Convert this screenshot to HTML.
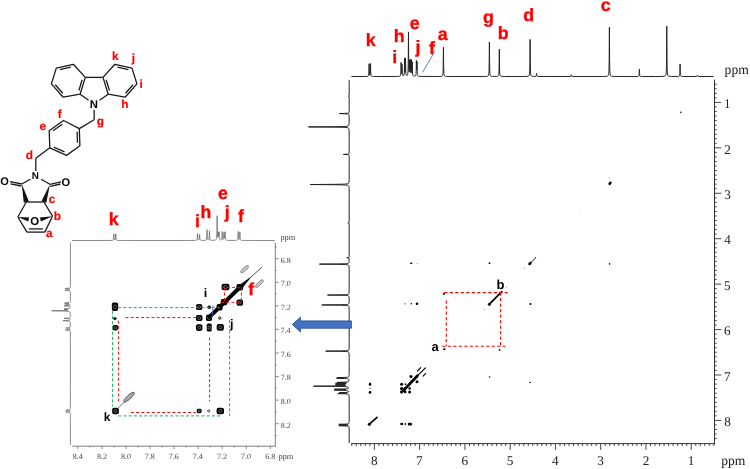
<!DOCTYPE html>
<html><head><meta charset="utf-8"><style>
html,body{margin:0;padding:0;background:#fff;}
body{width:750px;height:469px;overflow:hidden;font-family:"Liberation Sans",sans-serif;}
svg{display:block;will-change:transform;}
text{text-rendering:geometricPrecision;}
</style></head><body>
<svg width="750" height="469" viewBox="0 0 750 469">
<g id="mol">
<path d="M73.4,64.3 L56.3,68.1 L51.4,83.9 L63.2,97.2 L80.1,94.2 L85.3,77.4 Z" fill="none" stroke="#1a1a1a" stroke-width="1.3" stroke-linejoin="round"/>
<path d="M114.9,64.3 L132.0,68.1 L136.9,83.9 L125.10000000000001,97.2 L108.20000000000002,94.2 L103.00000000000001,77.4 Z" fill="none" stroke="#1a1a1a" stroke-width="1.3" stroke-linejoin="round"/>
<line x1="70.82" y1="67.23" x2="59.88" y2="69.66" stroke="#1a1a1a" stroke-width="1.3"/>
<line x1="55.24" y1="84.77" x2="62.8" y2="93.28" stroke="#1a1a1a" stroke-width="1.3"/>
<line x1="78.84" y1="90.5" x2="82.17" y2="79.74" stroke="#1a1a1a" stroke-width="1.3"/>
<line x1="117.48" y1="67.23" x2="128.42" y2="69.66" stroke="#1a1a1a" stroke-width="1.3"/>
<line x1="133.06" y1="84.77" x2="125.5" y2="93.28" stroke="#1a1a1a" stroke-width="1.3"/>
<line x1="109.46" y1="90.5" x2="106.13" y2="79.74" stroke="#1a1a1a" stroke-width="1.3"/>
<line x1="85.3" y1="77.4" x2="103.00000000000001" y2="77.4" stroke="#1a1a1a" stroke-width="1.3"/>
<line x1="80.1" y1="94.2" x2="88.6" y2="100.2" stroke="#1a1a1a" stroke-width="1.3"/>
<line x1="108.20000000000002" y1="94.2" x2="99.5" y2="100.2" stroke="#1a1a1a" stroke-width="1.3"/>
<line x1="94.15" y1="110.0" x2="94.15" y2="119.7" stroke="#1a1a1a" stroke-width="1.3"/>
<line x1="94.15" y1="119.7" x2="79.3" y2="128.6" stroke="#1a1a1a" stroke-width="1.3"/>
<path d="M63.5,120.5 L79.3,128.6 L79.9,145.8 L66.5,155.4 L49.8,147.8 L49.2,130.7 Z" fill="none" stroke="#1a1a1a" stroke-width="1.3" stroke-linejoin="round"/>
<line x1="53.11" y1="130.74" x2="62.26" y2="124.21" stroke="#1a1a1a" stroke-width="1.3"/>
<line x1="77.11" y1="131.78" x2="77.49" y2="142.78" stroke="#1a1a1a" stroke-width="1.3"/>
<line x1="64.45" y1="151.94" x2="53.76" y2="147.07" stroke="#1a1a1a" stroke-width="1.3"/>
<line x1="49.8" y1="147.8" x2="35.8" y2="158.3" stroke="#1a1a1a" stroke-width="1.3"/>
<line x1="35.8" y1="158.3" x2="35.8" y2="171.0" stroke="#1a1a1a" stroke-width="1.3"/>
<line x1="30.3" y1="179.3" x2="21.8" y2="184.0" stroke="#1a1a1a" stroke-width="1.3"/>
<line x1="41.1" y1="179.3" x2="49.9" y2="184.3" stroke="#1a1a1a" stroke-width="1.3"/>
<line x1="21.8" y1="184.0" x2="10.0" y2="181.6" stroke="#1a1a1a" stroke-width="1.3"/>
<line x1="21.400000000000002" y1="186.0" x2="10.6" y2="183.8" stroke="#1a1a1a" stroke-width="1.3"/>
<line x1="49.9" y1="184.3" x2="61.0" y2="181.8" stroke="#1a1a1a" stroke-width="1.3"/>
<line x1="50.3" y1="186.3" x2="60.5" y2="184.0" stroke="#1a1a1a" stroke-width="1.3"/>
<path d="M21.8,184.0 L23.78,202.63 L28.82,201.37 Z" fill="#111"/>
<path d="M49.9,184.3 L41.44,201.17 L46.36,202.83 Z" fill="#111"/>
<line x1="26.3" y1="202.0" x2="43.9" y2="202.0" stroke="#1a1a1a" stroke-width="1.3"/>
<line x1="26.3" y1="202.0" x2="17.9" y2="217.0" stroke="#1a1a1a" stroke-width="1.3"/>
<line x1="43.9" y1="202.0" x2="52.5" y2="216.2" stroke="#1a1a1a" stroke-width="1.3"/>
<line x1="17.9" y1="217.0" x2="26.9" y2="232.1" stroke="#1a1a1a" stroke-width="1.3"/>
<line x1="52.5" y1="216.2" x2="44.8" y2="232.1" stroke="#1a1a1a" stroke-width="1.3"/>
<line x1="26.9" y1="232.1" x2="44.8" y2="232.1" stroke="#1a1a1a" stroke-width="1.3"/>
<line x1="28.9" y1="228.9" x2="42.8" y2="228.9" stroke="#1a1a1a" stroke-width="1.3"/>
<path d="M17.9,217.0 L28.26,221.40 L29.14,217.40 Z" fill="#111"/>
<path d="M52.5,216.2 L39.88,217.42 L40.92,221.38 Z" fill="#111"/>
</g>
<text x="89.76" y="108.20" font-family='"Liberation Sans", sans-serif' font-size="11.34" font-weight="bold" fill="#000">N</text>
<text x="31.63" y="179.00" font-family='"Liberation Sans", sans-serif' font-size="9.88" font-weight="bold" fill="#000">N</text>
<text x="0.32" y="185.29" font-family='"Liberation Sans", sans-serif' font-size="11.02" font-weight="bold" fill="#000">O</text>
<text x="61.42" y="185.69" font-family='"Liberation Sans", sans-serif' font-size="11.02" font-weight="bold" fill="#000">O</text>
<text x="30.16" y="225.39" font-family='"Liberation Sans", sans-serif' font-size="11.44" font-weight="bold" fill="#000">O</text>
<text x="112.00" y="60.28" font-family='"Liberation Sans", sans-serif' font-size="11.80" font-weight="bold" fill="#ff0000" stroke="#f00" stroke-width="0.2">k</text>
<text x="131.67" y="61.90" font-family='"Liberation Sans", sans-serif' font-size="11.80" font-weight="bold" fill="#ff0000" stroke="#f00" stroke-width="0.2">j</text>
<text x="139.62" y="87.78" font-family='"Liberation Sans", sans-serif' font-size="11.80" font-weight="bold" fill="#ff0000" stroke="#f00" stroke-width="0.2">i</text>
<text x="121.15" y="107.98" font-family='"Liberation Sans", sans-serif' font-size="11.80" font-weight="bold" fill="#ff0000" stroke="#f00" stroke-width="0.2">h</text>
<text x="96.75" y="125.13" font-family='"Liberation Sans", sans-serif' font-size="11.80" font-weight="bold" fill="#ff0000" stroke="#f00" stroke-width="0.2">g</text>
<text x="57.72" y="118.43" font-family='"Liberation Sans", sans-serif' font-size="11.80" font-weight="bold" fill="#ff0000" stroke="#f00" stroke-width="0.2">f</text>
<text x="39.49" y="129.72" font-family='"Liberation Sans", sans-serif' font-size="11.80" font-weight="bold" fill="#ff0000" stroke="#f00" stroke-width="0.2">e</text>
<text x="25.64" y="158.72" font-family='"Liberation Sans", sans-serif' font-size="11.80" font-weight="bold" fill="#ff0000" stroke="#f00" stroke-width="0.2">d</text>
<text x="48.81" y="203.37" font-family='"Liberation Sans", sans-serif' font-size="11.80" font-weight="bold" fill="#ff0000" stroke="#f00" stroke-width="0.2">c</text>
<text x="53.85" y="220.02" font-family='"Liberation Sans", sans-serif' font-size="11.80" font-weight="bold" fill="#ff0000" stroke="#f00" stroke-width="0.2">b</text>
<text x="46.11" y="236.52" font-family='"Liberation Sans", sans-serif' font-size="11.80" font-weight="bold" fill="#ff0000" stroke="#f00" stroke-width="0.2">a</text>
<path d="M351.40,76.50 L365.72,76.45 L367.36,76.36 L367.80,76.26 L368.12,76.11 L368.36,75.86 L368.52,75.52 L368.76,74.12 L368.88,72.06 L369.12,63.65 L369.40,73.33 L369.56,74.74 L369.68,75.12 L369.84,75.22 L369.96,75.06 L370.08,74.59 L370.24,72.88 L370.52,63.61 L370.68,70.44 L370.84,73.98 L370.96,74.98 L371.12,75.60 L371.36,76.00 L371.68,76.21 L372.36,76.37 L373.64,76.45 L381.52,76.49 L396.28,76.45 L398.52,76.37 L399.64,76.22 L400.12,75.99 L400.40,75.62 L400.60,75.00 L400.72,74.18 L400.88,71.49 L401.12,62.37 L401.32,70.90 L401.48,73.26 L401.56,73.51 L401.64,73.34 L401.76,72.07 L402.00,63.95 L402.24,72.17 L402.40,74.37 L402.52,75.04 L402.72,75.54 L403.00,75.78 L403.40,75.78 L403.72,75.52 L403.96,75.00 L404.12,74.18 L404.24,72.89 L404.40,68.43 L404.60,57.94 L404.80,68.88 L404.96,72.02 L405.04,72.32 L405.12,72.03 L405.24,70.17 L405.48,57.94 L405.72,69.93 L405.92,73.75 L406.08,74.74 L406.32,75.34 L406.52,75.53 L406.72,75.60 L406.96,75.57 L407.16,75.46 L407.40,75.18 L407.56,74.84 L407.80,73.81 L408.00,71.70 L408.12,68.83 L408.28,58.92 L408.48,31.91 L408.72,62.10 L408.84,68.24 L409.04,71.66 L409.12,72.02 L409.16,72.05 L409.20,71.97 L409.36,70.19 L409.60,59.81 L409.84,69.36 L409.96,71.02 L410.00,71.10 L410.04,70.96 L410.08,70.60 L410.40,59.23 L410.64,70.56 L410.80,72.62 L410.88,72.84 L410.96,72.66 L411.08,71.47 L411.16,69.58 L411.36,59.54 L411.60,69.78 L411.76,72.46 L411.84,72.75 L411.92,72.54 L412.04,71.01 L412.28,61.71 L412.48,70.34 L412.68,74.06 L412.84,75.01 L413.04,75.53 L413.36,75.89 L413.84,76.08 L414.68,76.12 L415.04,76.05 L415.32,75.92 L415.68,75.48 L415.92,74.60 L416.04,73.56 L416.16,71.32 L416.40,60.45 L416.60,68.50 L416.68,69.75 L416.72,69.76 L416.76,69.36 L416.80,68.52 L417.00,61.49 L417.20,70.72 L417.32,73.33 L417.44,74.52 L417.60,75.28 L417.84,75.78 L418.16,76.07 L418.56,76.23 L419.12,76.33 L421.20,76.43 L437.24,76.47 L441.04,76.36 L441.80,76.21 L442.28,75.93 L442.60,75.42 L442.80,74.66 L442.96,73.33 L443.08,71.18 L443.20,66.38 L443.44,47.38 L443.64,66.20 L443.80,72.02 L443.92,73.74 L444.08,74.85 L444.32,75.59 L444.48,75.84 L444.72,76.05 L445.36,76.30 L446.48,76.41 L452.80,76.49 L483.72,76.47 L486.60,76.38 L487.32,76.29 L487.84,76.14 L488.32,75.76 L488.64,75.05 L488.84,73.94 L489.00,71.85 L489.20,63.48 L489.40,42.03 L489.60,62.55 L489.76,70.65 L489.88,72.97 L490.04,74.43 L490.28,75.37 L490.64,75.92 L491.20,76.22 L492.20,76.37 L494.44,76.43 L496.72,76.38 L497.48,76.28 L498.00,76.09 L498.32,75.80 L498.56,75.32 L498.76,74.40 L498.88,73.26 L499.04,69.66 L499.32,49.10 L499.52,65.95 L499.64,71.07 L499.76,73.32 L499.92,74.68 L500.12,75.44 L500.44,75.94 L500.88,76.21 L501.56,76.35 L504.68,76.47 L524.52,76.47 L527.08,76.39 L528.28,76.21 L528.64,76.05 L528.92,75.81 L529.12,75.51 L529.28,75.11 L529.52,73.80 L529.68,71.64 L529.88,63.12 L530.08,39.40 L530.32,63.98 L530.48,71.00 L530.64,73.53 L530.84,74.85 L531.16,75.67 L531.40,75.94 L531.68,76.12 L532.36,76.31 L533.52,76.41 L535.20,76.42 L535.88,76.29 L536.08,76.12 L536.24,75.74 L536.52,73.48 L536.72,75.30 L536.92,76.06 L537.08,76.25 L537.28,76.35 L538.12,76.45 L570.08,76.47 L570.64,76.39 L570.92,76.20 L571.08,75.80 L571.28,74.70 L571.48,75.79 L571.64,76.20 L571.92,76.39 L572.56,76.47 L601.80,76.48 L605.40,76.42 L607.04,76.27 L607.56,76.12 L607.92,75.92 L608.20,75.62 L608.40,75.24 L608.56,74.73 L608.72,73.83 L608.92,71.37 L609.04,67.96 L609.16,60.38 L609.40,27.29 L609.60,58.36 L609.76,68.72 L609.88,71.74 L610.08,73.98 L610.36,75.19 L610.56,75.59 L610.80,75.87 L611.24,76.13 L611.92,76.30 L614.60,76.45 L634.84,76.49 L637.24,76.46 L638.24,76.36 L638.56,76.24 L638.76,76.06 L638.92,75.76 L639.04,75.28 L639.20,73.60 L639.40,69.20 L639.60,73.69 L639.72,75.06 L639.96,75.95 L640.16,76.19 L640.48,76.34 L641.20,76.44 L642.76,76.48 L655.76,76.49 L661.92,76.44 L664.24,76.30 L664.84,76.15 L665.24,75.95 L665.56,75.63 L665.80,75.17 L665.96,74.62 L666.12,73.65 L666.32,70.96 L666.44,67.20 L666.56,58.74 L666.76,26.05 L667.00,58.83 L667.16,68.80 L667.28,71.75 L667.48,73.96 L667.72,75.06 L667.88,75.44 L668.12,75.78 L668.52,76.07 L669.12,76.26 L670.00,76.37 L671.40,76.43 L677.76,76.43 L678.72,76.32 L679.00,76.23 L679.24,76.06 L679.44,75.77 L679.60,75.27 L679.80,73.51 L680.08,64.01 L680.28,71.43 L680.44,74.37 L680.56,75.21 L680.72,75.74 L680.96,76.09 L681.28,76.27 L682.12,76.42 L683.84,76.47 L696.52,76.46 L696.96,76.39 L697.20,76.20 L697.52,75.10 L697.72,75.98 L697.84,76.23 L698.04,76.38 L698.44,76.46 L713.60,76.50" fill="none" stroke="#222" stroke-width="1.0"/>
<path d="M349.20,80.20 L349.17,95.16 L349.10,95.56 L348.98,95.76 L348.77,95.88 L348.08,96.08 L348.97,96.40 L349.11,96.64 L349.17,97.08 L349.18,109.84 L349.13,111.60 L349.01,112.40 L348.86,112.72 L348.56,112.96 L348.10,113.12 L347.34,113.24 L344.66,113.40 L339.29,113.56 L347.03,113.88 L348.28,114.08 L348.64,114.24 L348.86,114.44 L349.06,114.96 L349.15,115.96 L349.14,122.44 L349.01,124.60 L348.85,125.20 L348.62,125.60 L348.34,125.84 L348.03,126.00 L347.12,126.24 L345.28,126.44 L342.81,126.56 L334.35,126.72 L308.47,126.92 L335.67,127.16 L342.04,127.28 L344.91,127.40 L346.97,127.60 L347.72,127.76 L348.15,127.92 L348.51,128.16 L348.77,128.48 L348.92,128.88 L349.04,129.48 L349.15,131.80 L349.19,137.76 L349.18,151.00 L349.15,152.56 L349.08,153.32 L348.96,153.64 L348.78,153.84 L348.12,154.08 L346.58,154.24 L343.42,154.40 L347.21,154.64 L348.15,154.76 L348.57,154.88 L348.84,155.04 L348.98,155.24 L349.08,155.56 L349.16,156.52 L349.19,158.88 L349.16,179.28 L349.05,181.96 L348.92,182.64 L348.70,183.12 L348.48,183.36 L348.17,183.56 L347.22,183.84 L345.49,184.04 L343.18,184.16 L335.32,184.32 L310.14,184.52 L335.73,184.76 L342.12,184.88 L344.98,185.00 L347.02,185.20 L347.76,185.36 L348.18,185.52 L348.53,185.76 L348.76,186.04 L348.91,186.40 L349.02,186.92 L349.14,188.60 L349.18,192.24 L349.18,221.52 L349.11,222.16 L348.95,222.44 L348.60,222.60 L347.76,222.80 L348.67,223.00 L348.97,223.16 L349.12,223.44 L349.17,224.00 L349.16,256.08 L349.08,256.92 L349.00,257.12 L348.85,257.28 L348.24,257.48 L346.78,257.68 L348.59,257.96 L348.90,258.12 L349.03,258.32 L349.14,259.04 L349.13,260.72 L349.04,261.88 L348.89,262.56 L348.74,262.84 L348.52,263.08 L347.83,263.40 L346.70,263.60 L344.50,263.76 L338.26,263.92 L319.41,264.12 L339.39,264.36 L345.55,264.56 L347.14,264.72 L348.12,264.96 L348.67,265.32 L348.85,265.60 L348.97,265.96 L349.11,267.16 L349.17,269.72 L349.18,289.56 L349.09,292.72 L348.97,293.44 L348.77,293.88 L348.39,294.20 L347.84,294.40 L346.86,294.56 L345.28,294.68 L341.75,294.80 L327.51,295.04 L344.25,295.32 L346.80,295.48 L347.62,295.60 L348.20,295.76 L348.62,296.00 L348.86,296.32 L349.01,296.80 L349.10,297.52 L349.15,299.72 L349.10,302.12 L348.99,303.12 L348.75,303.72 L348.33,304.08 L347.63,304.32 L346.56,304.48 L344.89,304.60 L339.20,304.76 L321.76,304.96 L340.07,305.20 L345.18,305.36 L347.02,305.52 L347.98,305.72 L348.59,306.04 L348.79,306.28 L348.92,306.56 L349.11,307.80 L349.17,310.68 L349.19,341.32 L349.13,348.00 L349.04,349.16 L348.86,349.80 L348.52,350.20 L347.99,350.44 L346.92,350.64 L345.47,350.76 L340.49,350.92 L325.67,351.12 L339.45,351.32 L345.13,351.48 L346.75,351.60 L347.77,351.76 L348.35,351.96 L348.75,352.28 L348.97,352.76 L349.09,353.56 L349.18,357.36 L349.15,373.44 L349.06,375.52 L348.86,376.48 L348.64,376.80 L348.25,377.04 L347.67,377.20 L346.78,377.32 L343.72,377.48 L337.35,377.64 L337.23,377.68 L343.37,377.88 L343.78,377.92 L343.87,377.96 L343.63,378.00 L336.39,378.24 L344.78,378.48 L346.72,378.60 L347.62,378.72 L348.36,378.96 L348.73,379.32 L348.90,379.96 L348.86,380.84 L348.70,381.32 L348.41,381.64 L347.97,381.84 L347.16,382.00 L344.97,382.16 L337.45,382.40 L345.02,382.64 L346.10,382.76 L346.21,382.84 L345.93,382.92 L343.60,383.08 L335.59,383.28 L343.89,383.52 L345.30,383.60 L346.18,383.72 L346.29,383.80 L346.09,383.88 L344.36,384.04 L335.31,384.28 L342.31,384.48 L344.55,384.60 L344.82,384.64 L344.91,384.68 L344.83,384.72 L343.45,384.84 L335.89,385.08 L344.20,385.32 L345.60,385.48 L345.64,385.56 L345.36,385.64 L342.65,385.84 L337.81,385.96 L313.53,386.20 L334.97,386.40 L343.01,386.56 L345.34,386.68 L347.04,386.88 L347.87,387.12 L348.14,387.28 L348.37,387.52 L348.47,387.76 L348.48,388.00 L348.41,388.20 L348.24,388.40 L347.71,388.64 L346.79,388.80 L343.10,389.00 L334.26,389.20 L342.75,389.40 L345.55,389.56 L345.87,389.64 L345.72,389.72 L344.44,389.84 L334.38,390.12 L343.55,390.32 L346.58,390.48 L347.48,390.60 L348.06,390.76 L348.45,391.00 L348.63,391.32 L348.62,391.72 L348.41,392.00 L347.99,392.20 L347.41,392.32 L345.47,392.48 L339.27,392.68 L345.85,392.96 L346.73,393.08 L346.82,393.16 L346.57,393.24 L344.49,393.40 L337.80,393.60 L345.42,393.84 L347.42,394.00 L348.04,394.12 L348.52,394.32 L348.80,394.60 L348.98,395.08 L349.10,396.20 L349.16,398.56 L349.19,414.36 L349.15,421.32 L349.09,422.52 L348.96,423.16 L348.78,423.48 L348.53,423.68 L348.09,423.84 L347.40,423.96 L345.03,424.12 L338.83,424.32 L346.51,424.60 L347.74,424.76 L348.17,424.96 L348.14,425.12 L347.89,425.24 L346.54,425.44 L338.84,425.72 L344.97,425.92 L347.01,426.04 L348.34,426.28 L348.65,426.44 L348.87,426.68 L349.08,427.40 L349.16,429.00 L349.20,443.00" fill="none" stroke="#222" stroke-width="1.0"/>
<line x1="714.5" y1="79.6" x2="714.5" y2="443.9" stroke="#333" stroke-width="1"/>
<path d="M714.5,84.23 h2.2 M714.5,88.77 h2.2 M714.5,93.31 h2.2 M714.5,97.86 h2.2 M714.5,102.40 h6.8 M714.5,106.94 h2.2 M714.5,111.49 h2.2 M714.5,116.03 h2.2 M714.5,120.57 h2.2 M714.5,125.12 h2.2 M714.5,129.66 h2.2 M714.5,134.20 h2.2 M714.5,138.74 h2.2 M714.5,143.29 h2.2 M714.5,147.83 h6.8 M714.5,152.37 h2.2 M714.5,156.92 h2.2 M714.5,161.46 h2.2 M714.5,166.00 h2.2 M714.5,170.55 h2.2 M714.5,175.09 h2.2 M714.5,179.63 h2.2 M714.5,184.17 h2.2 M714.5,188.72 h2.2 M714.5,193.26 h6.8 M714.5,197.80 h2.2 M714.5,202.35 h2.2 M714.5,206.89 h2.2 M714.5,211.43 h2.2 M714.5,215.98 h2.2 M714.5,220.52 h2.2 M714.5,225.06 h2.2 M714.5,229.60 h2.2 M714.5,234.15 h2.2 M714.5,238.69 h6.8 M714.5,243.23 h2.2 M714.5,247.78 h2.2 M714.5,252.32 h2.2 M714.5,256.86 h2.2 M714.5,261.40 h2.2 M714.5,265.95 h2.2 M714.5,270.49 h2.2 M714.5,275.03 h2.2 M714.5,279.58 h2.2 M714.5,284.12 h6.8 M714.5,288.66 h2.2 M714.5,293.21 h2.2 M714.5,297.75 h2.2 M714.5,302.29 h2.2 M714.5,306.84 h2.2 M714.5,311.38 h2.2 M714.5,315.92 h2.2 M714.5,320.46 h2.2 M714.5,325.01 h2.2 M714.5,329.55 h6.8 M714.5,334.09 h2.2 M714.5,338.64 h2.2 M714.5,343.18 h2.2 M714.5,347.72 h2.2 M714.5,352.26 h2.2 M714.5,356.81 h2.2 M714.5,361.35 h2.2 M714.5,365.89 h2.2 M714.5,370.44 h2.2 M714.5,374.98 h6.8 M714.5,379.52 h2.2 M714.5,384.07 h2.2 M714.5,388.61 h2.2 M714.5,393.15 h2.2 M714.5,397.70 h2.2 M714.5,402.24 h2.2 M714.5,406.78 h2.2 M714.5,411.32 h2.2 M714.5,415.87 h2.2 M714.5,420.41 h6.8 M714.5,424.95 h2.2 M714.5,429.50 h2.2 M714.5,434.04 h2.2 M714.5,438.58 h2.2" stroke="#333" stroke-width="0.9"/>
<line x1="351.2" y1="443.6" x2="714.8" y2="443.6" stroke="#333" stroke-width="1"/>
<path d="M351.77,443.6 v2.4 M356.30,443.6 v2.4 M360.82,443.6 v2.4 M365.35,443.6 v2.4 M369.87,443.6 v2.4 M374.40,443.6 v6.3 M378.93,443.6 v2.4 M383.45,443.6 v2.4 M387.98,443.6 v2.4 M392.50,443.6 v2.4 M397.03,443.6 v2.4 M401.56,443.6 v2.4 M406.08,443.6 v2.4 M410.61,443.6 v2.4 M415.13,443.6 v2.4 M419.66,443.6 v6.3 M424.19,443.6 v2.4 M428.71,443.6 v2.4 M433.24,443.6 v2.4 M437.76,443.6 v2.4 M442.29,443.6 v2.4 M446.82,443.6 v2.4 M451.34,443.6 v2.4 M455.87,443.6 v2.4 M460.39,443.6 v2.4 M464.92,443.6 v6.3 M469.45,443.6 v2.4 M473.97,443.6 v2.4 M478.50,443.6 v2.4 M483.02,443.6 v2.4 M487.55,443.6 v2.4 M492.08,443.6 v2.4 M496.60,443.6 v2.4 M501.13,443.6 v2.4 M505.65,443.6 v2.4 M510.18,443.6 v6.3 M514.71,443.6 v2.4 M519.23,443.6 v2.4 M523.76,443.6 v2.4 M528.28,443.6 v2.4 M532.81,443.6 v2.4 M537.34,443.6 v2.4 M541.86,443.6 v2.4 M546.39,443.6 v2.4 M550.91,443.6 v2.4 M555.44,443.6 v6.3 M559.97,443.6 v2.4 M564.49,443.6 v2.4 M569.02,443.6 v2.4 M573.54,443.6 v2.4 M578.07,443.6 v2.4 M582.60,443.6 v2.4 M587.12,443.6 v2.4 M591.65,443.6 v2.4 M596.17,443.6 v2.4 M600.70,443.6 v6.3 M605.23,443.6 v2.4 M609.75,443.6 v2.4 M614.28,443.6 v2.4 M618.80,443.6 v2.4 M623.33,443.6 v2.4 M627.86,443.6 v2.4 M632.38,443.6 v2.4 M636.91,443.6 v2.4 M641.43,443.6 v2.4 M645.96,443.6 v6.3 M650.49,443.6 v2.4 M655.01,443.6 v2.4 M659.54,443.6 v2.4 M664.06,443.6 v2.4 M668.59,443.6 v2.4 M673.12,443.6 v2.4 M677.64,443.6 v2.4 M682.17,443.6 v2.4 M686.69,443.6 v2.4 M691.22,443.6 v6.3 M695.75,443.6 v2.4 M700.27,443.6 v2.4 M704.80,443.6 v2.4 M709.32,443.6 v2.4 M713.85,443.6 v2.4" stroke="#333" stroke-width="0.9"/>
<text x="724.02" y="108.06" font-family='"Liberation Serif", sans-serif' font-size="13.20" fill="#222">1</text>
<text x="687.74" y="465.46" font-family='"Liberation Serif", sans-serif' font-size="13.20" fill="#222">1</text>
<text x="724.27" y="153.50" font-family='"Liberation Serif", sans-serif' font-size="13.20" fill="#222">2</text>
<text x="642.73" y="465.47" font-family='"Liberation Serif", sans-serif' font-size="13.20" fill="#222">2</text>
<text x="724.14" y="198.87" font-family='"Liberation Serif", sans-serif' font-size="13.20" fill="#222">3</text>
<text x="597.34" y="465.41" font-family='"Liberation Serif", sans-serif' font-size="13.20" fill="#222">3</text>
<text x="724.17" y="244.33" font-family='"Liberation Serif", sans-serif' font-size="13.20" fill="#222">4</text>
<text x="552.11" y="465.44" font-family='"Liberation Serif", sans-serif' font-size="13.20" fill="#222">4</text>
<text x="724.07" y="289.68" font-family='"Liberation Serif", sans-serif' font-size="13.20" fill="#222">5</text>
<text x="506.75" y="465.36" font-family='"Liberation Serif", sans-serif' font-size="13.20" fill="#222">5</text>
<text x="724.11" y="335.16" font-family='"Liberation Serif", sans-serif' font-size="13.20" fill="#222">6</text>
<text x="461.53" y="465.41" font-family='"Liberation Serif", sans-serif' font-size="13.20" fill="#222">6</text>
<text x="723.96" y="380.60" font-family='"Liberation Serif", sans-serif' font-size="13.20" fill="#222">7</text>
<text x="416.12" y="465.42" font-family='"Liberation Serif", sans-serif' font-size="13.20" fill="#222">7</text>
<text x="724.20" y="426.03" font-family='"Liberation Serif", sans-serif' font-size="13.20" fill="#222">8</text>
<text x="371.10" y="465.42" font-family='"Liberation Serif", sans-serif' font-size="13.20" fill="#222">8</text>
<text x="724.61" y="74.16" font-family='"Liberation Serif", sans-serif' font-size="13.60" fill="#222">ppm</text>
<text x="721.21" y="464.66" font-family='"Liberation Serif", sans-serif' font-size="13.60" fill="#222">ppm</text>
<text x="365.72" y="45.75" font-family='"Liberation Sans", sans-serif' font-size="17.80" font-weight="bold" fill="#ff0000" stroke="#f00" stroke-width="0.35">k</text>
<text x="393.74" y="42.10" font-family='"Liberation Sans", sans-serif' font-size="17.80" font-weight="bold" fill="#ff0000" stroke="#f00" stroke-width="0.35">h</text>
<text x="392.34" y="63.15" font-family='"Liberation Sans", sans-serif' font-size="17.80" font-weight="bold" fill="#ff0000" stroke="#f00" stroke-width="0.35">i</text>
<text x="409.66" y="28.85" font-family='"Liberation Sans", sans-serif' font-size="17.80" font-weight="bold" fill="#ff0000" stroke="#f00" stroke-width="0.35">e</text>
<text x="415.49" y="52.80" font-family='"Liberation Sans", sans-serif' font-size="17.80" font-weight="bold" fill="#ff0000" stroke="#f00" stroke-width="0.35">j</text>
<text x="428.92" y="53.55" font-family='"Liberation Sans", sans-serif' font-size="17.80" font-weight="bold" fill="#ff0000" stroke="#f00" stroke-width="0.35">f</text>
<text x="437.73" y="40.30" font-family='"Liberation Sans", sans-serif' font-size="17.80" font-weight="bold" fill="#ff0000" stroke="#f00" stroke-width="0.35">a</text>
<text x="483.09" y="23.11" font-family='"Liberation Sans", sans-serif' font-size="17.80" font-weight="bold" fill="#ff0000" stroke="#f00" stroke-width="0.35">g</text>
<text x="497.84" y="39.31" font-family='"Liberation Sans", sans-serif' font-size="17.80" font-weight="bold" fill="#ff0000" stroke="#f00" stroke-width="0.35">b</text>
<text x="523.29" y="21.36" font-family='"Liberation Sans", sans-serif' font-size="17.80" font-weight="bold" fill="#ff0000" stroke="#f00" stroke-width="0.35">d</text>
<text x="600.76" y="10.50" font-family='"Liberation Sans", sans-serif' font-size="17.80" font-weight="bold" fill="#ff0000" stroke="#f00" stroke-width="0.35">c</text>
<line x1="422.6" y1="72.4" x2="434.8" y2="51.3" stroke="#4472c4" stroke-width="0.9"/>
<ellipse cx="680.8" cy="112.3" rx="0.8" ry="0.8" transform="rotate(0 680.8 112.3)" fill="#000"/>
<ellipse cx="610.0" cy="183.3" rx="1.3" ry="2.0" transform="rotate(40 610.0 183.3)" fill="#000"/>
<ellipse cx="609.8" cy="178.0" rx="0.4" ry="0.4" transform="rotate(0 609.8 178.0)" fill="#000"/>
<ellipse cx="609.6" cy="263.9" rx="0.8" ry="0.8" transform="rotate(0 609.6 263.9)" fill="#000"/>
<ellipse cx="411.2" cy="263.3" rx="1.3" ry="0.8" transform="rotate(0 411.2 263.3)" fill="#000"/>
<ellipse cx="417.0" cy="263.3" rx="0.4" ry="0.4" transform="rotate(0 417.0 263.3)" fill="#000"/>
<ellipse cx="489.5" cy="263.2" rx="0.9" ry="0.9" transform="rotate(0 489.5 263.2)" fill="#000"/>
<line x1="529.8" y1="263.6" x2="535.4" y2="258.3" stroke="#000" stroke-width="0.9" stroke-linecap="round"/>
<ellipse cx="530.0" cy="263.5" rx="1.4" ry="2.0" transform="rotate(45 530.0 263.5)" fill="#000"/>
<ellipse cx="524.8" cy="268.4" rx="0.4" ry="0.4" transform="rotate(0 524.8 268.4)" fill="#000"/>
<ellipse cx="535.6" cy="257.6" rx="0.5" ry="0.5" transform="rotate(0 535.6 257.6)" fill="#000"/>
<ellipse cx="405.1" cy="303.8" rx="0.6" ry="0.6" transform="rotate(0 405.1 303.8)" fill="#000"/>
<ellipse cx="411.2" cy="303.8" rx="0.8" ry="0.8" transform="rotate(0 411.2 303.8)" fill="#000"/>
<ellipse cx="417.0" cy="303.8" rx="1.3" ry="1.3" transform="rotate(0 417.0 303.8)" fill="#000"/>
<ellipse cx="530.5" cy="303.9" rx="1.0" ry="1.0" transform="rotate(0 530.5 303.9)" fill="#000"/>
<ellipse cx="443.9" cy="293.8" rx="1.1" ry="1.0" transform="rotate(0 443.9 293.8)" fill="#000"/>
<line x1="489.4" y1="304.2" x2="501.8" y2="291.6" stroke="#000" stroke-width="1.7" stroke-linecap="round"/>
<ellipse cx="489.4" cy="304.2" rx="1.5" ry="1.5" transform="rotate(0 489.4 304.2)" fill="#000"/>
<ellipse cx="506.4" cy="287.4" rx="0.3" ry="0.3" transform="rotate(0 506.4 287.4)" fill="#000"/>
<ellipse cx="484.7" cy="309.3" rx="0.4" ry="0.4" transform="rotate(0 484.7 309.3)" fill="#000"/>
<ellipse cx="444.3" cy="349.3" rx="1.2" ry="1.0" transform="rotate(0 444.3 349.3)" fill="#000"/>
<ellipse cx="499.6" cy="349.9" rx="0.9" ry="0.9" transform="rotate(0 499.6 349.9)" fill="#000"/>
<ellipse cx="489.6" cy="377.0" rx="0.8" ry="0.8" transform="rotate(0 489.6 377.0)" fill="#000"/>
<ellipse cx="530.1" cy="382.5" rx="0.8" ry="0.8" transform="rotate(0 530.1 382.5)" fill="#000"/>
<ellipse cx="529.8" cy="377.4" rx="0.4" ry="0.4" transform="rotate(0 529.8 377.4)" fill="#888"/>
<ellipse cx="580.0" cy="214.0" rx="0.4" ry="0.4" transform="rotate(0 580.0 214.0)" fill="#aaa"/>
<ellipse cx="370.0" cy="384.2" rx="1.2" ry="1.7" transform="rotate(0 370.0 384.2)" fill="#000"/>
<ellipse cx="370.0" cy="388.5" rx="0.7" ry="0.6" transform="rotate(0 370.0 388.5)" fill="#000"/>
<ellipse cx="370.0" cy="392.4" rx="1.3" ry="1.3" transform="rotate(0 370.0 392.4)" fill="#000"/>
<line x1="369.4" y1="424.2" x2="377.0" y2="417.3" stroke="#000" stroke-width="1.7" stroke-linecap="round"/>
<ellipse cx="369.3" cy="424.3" rx="1.5" ry="1.5" transform="rotate(0 369.3 424.3)" fill="#000"/>
<ellipse cx="401.7" cy="423.9" rx="1.5" ry="1.2" transform="rotate(0 401.7 423.9)" fill="#000"/>
<ellipse cx="405.3" cy="424.0" rx="0.8" ry="1.0" transform="rotate(0 405.3 424.0)" fill="#000"/>
<rect x="407.90" y="422.65" width="4.0" height="2.9" rx="0.91" transform="rotate(0 409.9 424.1)" fill="#000"/>
<ellipse cx="401.6" cy="384.2" rx="1.5" ry="1.5" transform="rotate(0 401.6 384.2)" fill="#000"/>
<ellipse cx="405.4" cy="384.2" rx="0.9" ry="0.9" transform="rotate(0 405.4 384.2)" fill="#000"/>
<ellipse cx="401.6" cy="388.5" rx="1.6" ry="1.6" transform="rotate(0 401.6 388.5)" fill="#000"/>
<ellipse cx="401.6" cy="391.9" rx="1.6" ry="1.6" transform="rotate(0 401.6 391.9)" fill="#000"/>
<ellipse cx="405.1" cy="388.5" rx="1.4" ry="1.4" transform="rotate(0 405.1 388.5)" fill="#000"/>
<ellipse cx="405.1" cy="391.9" rx="1.4" ry="1.4" transform="rotate(0 405.1 391.9)" fill="#000"/>
<ellipse cx="409.6" cy="388.5" rx="1.2" ry="1.2" transform="rotate(0 409.6 388.5)" fill="#000"/>
<ellipse cx="409.6" cy="391.9" rx="1.5" ry="1.5" transform="rotate(0 409.6 391.9)" fill="#000"/>
<ellipse cx="411.0" cy="376.6" rx="1.5" ry="1.5" transform="rotate(0 411.0 376.6)" fill="#000"/>
<ellipse cx="417.0" cy="381.8" rx="1.5" ry="1.5" transform="rotate(0 417.0 381.8)" fill="#000"/>
<line x1="403.5" y1="390.5" x2="417.4" y2="375.8" stroke="#000" stroke-width="2.7" stroke-linecap="round"/>
<line x1="417.4" y1="375.8" x2="425.4" y2="367.8" stroke="#000" stroke-width="1.2" stroke-linecap="round"/>
<line x1="417.4" y1="371.0" x2="420.7" y2="367.6" stroke="#000" stroke-width="1.1" stroke-linecap="round"/>
<line x1="423.0" y1="376.2" x2="425.6" y2="373.6" stroke="#000" stroke-width="1.1" stroke-linecap="round"/>
<path d="M444.2,292.6 H507.6 M442.2,346.3 H505.6 M446.3,300.6 V346.3 M500.6,292.6 V346.3" stroke="#ff0000" stroke-width="1.1" stroke-dasharray="3.2 2.3" fill="none"/>
<text x="496.62" y="288.95" font-family='"Liberation Sans", sans-serif' font-size="13.00" font-weight="bold" fill="#000">b</text>
<text x="431.45" y="350.63" font-family='"Liberation Sans", sans-serif' font-size="13.00" font-weight="bold" fill="#000">a</text>
<path d="M292.4,324.4 L300.4,317.2 L300.4,320.9 L351.4,320.9 L351.4,328.2 L300.4,328.2 L300.4,331.9 Z" fill="#4472c4" stroke="#2f528f" stroke-width="0.9"/>
<path d="M71.90,240.50 L107.78,240.49 L110.98,240.46 L112.34,240.36 L112.78,240.25 L113.06,240.07 L113.26,239.78 L113.42,239.28 L113.62,237.63 L113.86,233.73 L114.14,238.20 L114.26,239.08 L114.46,239.69 L114.70,239.93 L114.98,239.91 L115.18,239.70 L115.34,239.26 L115.54,237.73 L115.78,233.93 L116.06,238.26 L116.26,239.50 L116.46,239.94 L116.70,240.17 L117.10,240.33 L117.70,240.41 L121.02,240.48 L134.90,240.50 L187.82,240.49 L195.30,240.42 L196.06,240.34 L196.50,240.21 L196.82,239.95 L197.02,239.55 L197.26,238.11 L197.54,233.24 L197.86,238.30 L198.02,239.29 L198.14,239.63 L198.30,239.87 L198.54,239.99 L198.82,239.93 L199.02,239.70 L199.18,239.24 L199.34,238.09 L199.58,234.44 L199.90,238.64 L200.06,239.50 L200.30,240.00 L200.70,240.26 L201.38,240.38 L203.06,240.42 L204.82,240.37 L205.58,240.25 L206.06,240.02 L206.34,239.64 L206.54,238.98 L206.78,236.57 L207.06,229.64 L207.38,237.50 L207.54,238.84 L207.66,239.31 L207.82,239.65 L208.14,239.91 L208.34,239.92 L208.54,239.84 L208.78,239.56 L208.98,238.92 L209.18,237.06 L209.46,230.90 L209.78,237.81 L209.94,239.04 L210.18,239.75 L210.34,239.96 L210.58,240.13 L211.34,240.32 L213.18,240.37 L214.82,240.24 L215.62,239.98 L215.90,239.77 L216.10,239.51 L216.42,238.62 L216.62,237.24 L216.86,232.32 L217.14,215.63 L217.42,231.32 L217.54,234.78 L217.70,236.78 L217.86,237.37 L217.94,237.30 L218.02,236.94 L218.34,231.75 L218.58,235.58 L218.66,236.28 L218.70,236.39 L218.74,236.37 L218.86,235.36 L219.06,231.65 L219.30,236.39 L219.46,238.31 L219.58,238.97 L219.74,239.44 L219.94,239.74 L220.22,239.94 L220.74,240.04 L221.22,239.90 L221.50,239.60 L221.70,239.04 L221.94,236.93 L222.14,232.01 L222.22,231.35 L222.54,237.90 L222.74,239.08 L222.86,239.36 L223.02,239.53 L223.22,239.52 L223.38,239.33 L223.62,238.40 L223.74,237.19 L223.94,232.82 L224.02,232.11 L224.30,237.35 L224.46,238.31 L224.50,238.38 L224.58,238.38 L224.66,238.18 L224.82,236.88 L225.10,231.70 L225.30,236.28 L225.46,238.39 L225.70,239.51 L225.86,239.82 L226.10,240.05 L226.54,240.24 L227.18,240.35 L229.90,240.45 L235.42,240.42 L236.46,240.34 L237.06,240.17 L237.34,239.97 L237.54,239.66 L237.70,239.15 L237.82,238.40 L237.98,236.18 L238.18,231.41 L238.46,237.09 L238.58,238.39 L238.74,239.17 L238.94,239.52 L239.14,239.52 L239.34,239.19 L239.46,238.68 L239.62,237.11 L239.86,231.92 L239.94,232.65 L240.14,237.29 L240.30,238.86 L240.42,239.41 L240.62,239.86 L240.90,240.13 L241.30,240.29 L242.54,240.43 L245.46,240.48 L274.98,240.50" fill="none" stroke="#6e6e6e" stroke-width="0.8"/>
<path d="M70.40,242.60 L70.39,281.92 L70.36,285.48 L70.29,286.96 L70.20,287.40 L70.05,287.72 L69.83,287.92 L69.45,288.08 L68.19,288.28 L65.11,288.52 L68.17,288.76 L69.22,288.92 L69.56,289.04 L69.75,289.20 L69.78,289.40 L69.60,289.60 L69.18,289.76 L68.47,289.88 L64.73,290.16 L68.97,290.52 L69.78,290.76 L70.12,291.12 L70.29,291.84 L70.36,293.40 L70.36,298.76 L70.27,301.20 L70.17,301.80 L70.00,302.16 L69.73,302.40 L69.32,302.56 L68.02,302.76 L64.40,303.00 L64.89,303.08 L67.91,303.28 L68.80,303.44 L68.94,303.52 L68.93,303.60 L68.43,303.76 L64.89,304.08 L68.03,304.32 L69.10,304.48 L69.45,304.60 L69.69,304.80 L69.73,305.00 L69.59,305.20 L69.14,305.40 L68.15,305.56 L64.03,305.84 L68.11,306.12 L69.31,306.32 L69.74,306.52 L69.95,306.76 L70.06,307.20 L70.01,307.72 L69.86,308.04 L69.65,308.24 L69.32,308.40 L68.86,308.52 L67.52,308.68 L64.16,308.92 L66.72,309.12 L67.41,309.24 L67.32,309.32 L66.78,309.40 L64.25,309.60 L67.66,309.92 L67.97,310.00 L68.04,310.08 L67.62,310.24 L66.14,310.40 L63.58,310.52 L51.58,310.80 L64.12,311.08 L67.91,311.32 L68.97,311.52 L69.65,311.84 L70.00,312.28 L70.20,313.04 L70.30,314.52 L70.28,316.40 L70.16,317.16 L69.90,317.60 L69.44,317.84 L68.67,318.00 L63.97,318.32 L64.49,318.40 L67.96,318.60 L69.29,318.80 L69.74,319.00 L69.94,319.24 L69.98,319.60 L69.82,319.92 L69.27,320.20 L68.37,320.36 L62.97,320.68 L67.67,320.96 L69.35,321.20 L69.80,321.40 L70.07,321.68 L70.22,322.12 L70.31,322.88 L70.31,326.20 L70.23,326.88 L70.04,327.28 L69.71,327.52 L69.12,327.68 L65.94,328.00 L68.51,328.24 L69.43,328.40 L69.73,328.52 L69.95,328.72 L70.03,329.00 L69.93,329.28 L69.59,329.52 L68.96,329.68 L65.35,330.00 L68.62,330.28 L69.71,330.52 L70.00,330.72 L70.18,331.00 L70.28,331.44 L70.34,332.20 L70.39,339.40 L70.40,389.64 L70.39,404.76 L70.34,408.24 L70.28,408.84 L70.16,409.24 L69.95,409.52 L69.66,409.68 L68.73,409.88 L65.76,410.16 L68.54,410.40 L69.43,410.56 L69.79,410.72 L69.97,410.92 L69.99,411.20 L69.83,411.44 L69.38,411.64 L68.74,411.76 L65.75,412.04 L68.51,412.28 L69.59,412.48 L69.86,412.60 L70.08,412.80 L70.22,413.08 L70.29,413.44 L70.36,414.64 L70.39,417.36 L70.40,445.00" fill="none" stroke="#6e6e6e" stroke-width="0.8"/>
<line x1="275.3" y1="242.7" x2="275.3" y2="446.2" stroke="#6e6e6e" stroke-width="0.9"/>
<line x1="72.3" y1="446.2" x2="275.8" y2="446.2" stroke="#6e6e6e" stroke-width="0.9"/>
<path d="M275.3,246.91 h1.4 M275.3,258.70 h3.6 M275.3,270.49 h1.4 M275.3,282.27 h3.6 M275.3,294.06 h1.4 M275.3,305.84 h3.6 M275.3,317.63 h1.4 M275.3,329.42 h3.6 M275.3,341.20 h1.4 M275.3,352.99 h3.6 M275.3,364.77 h1.4 M275.3,376.56 h3.6 M275.3,388.35 h1.4 M275.3,400.13 h3.6 M275.3,411.92 h1.4 M275.3,423.70 h3.6 M275.3,435.49 h1.4 M77.90,446.2 v2.8 M89.92,446.2 v1.3 M101.95,446.2 v2.8 M113.98,446.2 v1.3 M126.00,446.2 v2.8 M138.03,446.2 v1.3 M150.05,446.2 v2.8 M162.08,446.2 v1.3 M174.10,446.2 v2.8 M186.13,446.2 v1.3 M198.15,446.2 v2.8 M210.18,446.2 v1.3 M222.20,446.2 v2.8 M234.23,446.2 v1.3 M246.25,446.2 v2.8 M258.27,446.2 v1.3 M270.30,446.2 v2.8" stroke="#6e6e6e" stroke-width="0.8"/>
<text x="280.78" y="262.60" font-family='"Liberation Serif", sans-serif' font-size="8.00" fill="#444">6.8</text>
<text x="280.69" y="286.18" font-family='"Liberation Serif", sans-serif' font-size="8.00" fill="#444">7.0</text>
<text x="280.76" y="309.74" font-family='"Liberation Serif", sans-serif' font-size="8.00" fill="#444">7.2</text>
<text x="280.60" y="333.29" font-family='"Liberation Serif", sans-serif' font-size="8.00" fill="#444">7.4</text>
<text x="280.66" y="356.88" font-family='"Liberation Serif", sans-serif' font-size="8.00" fill="#444">7.6</text>
<text x="280.69" y="380.46" font-family='"Liberation Serif", sans-serif' font-size="8.00" fill="#444">7.8</text>
<text x="280.80" y="404.04" font-family='"Liberation Serif", sans-serif' font-size="8.00" fill="#444">8.0</text>
<text x="280.87" y="427.61" font-family='"Liberation Serif", sans-serif' font-size="8.00" fill="#444">8.2</text>
<text x="72.71" y="458.85" font-family='"Liberation Serif", sans-serif' font-size="8.00" fill="#444">8.4</text>
<text x="96.92" y="458.85" font-family='"Liberation Serif", sans-serif' font-size="8.00" fill="#444">8.2</text>
<text x="120.90" y="458.85" font-family='"Liberation Serif", sans-serif' font-size="8.00" fill="#444">8.0</text>
<text x="144.84" y="458.85" font-family='"Liberation Serif", sans-serif' font-size="8.00" fill="#444">7.8</text>
<text x="168.86" y="458.84" font-family='"Liberation Serif", sans-serif' font-size="8.00" fill="#444">7.6</text>
<text x="192.85" y="458.83" font-family='"Liberation Serif", sans-serif' font-size="8.00" fill="#444">7.4</text>
<text x="217.06" y="458.84" font-family='"Liberation Serif", sans-serif' font-size="8.00" fill="#444">7.2</text>
<text x="241.04" y="458.85" font-family='"Liberation Serif", sans-serif' font-size="8.00" fill="#444">7.0</text>
<text x="265.18" y="458.85" font-family='"Liberation Serif", sans-serif' font-size="8.00" fill="#444">6.8</text>
<text x="280.43" y="239.53" font-family='"Liberation Serif", sans-serif' font-size="8.40" fill="#444">ppm</text>
<text x="278.38" y="459.13" font-family='"Liberation Serif", sans-serif' font-size="8.40" fill="#444">ppm</text>
<text x="108.78" y="225.43" font-family='"Liberation Sans", sans-serif' font-size="17.60" font-weight="bold" fill="#ff0000" stroke="#f00" stroke-width="0.35">k</text>
<text x="195.11" y="226.53" font-family='"Liberation Sans", sans-serif' font-size="17.60" font-weight="bold" fill="#ff0000" stroke="#f00" stroke-width="0.35">i</text>
<text x="200.51" y="218.08" font-family='"Liberation Sans", sans-serif' font-size="17.60" font-weight="bold" fill="#ff0000" stroke="#f00" stroke-width="0.35">h</text>
<text x="217.96" y="198.50" font-family='"Liberation Sans", sans-serif' font-size="17.60" font-weight="bold" fill="#ff0000" stroke="#f00" stroke-width="0.35">e</text>
<text x="224.71" y="217.80" font-family='"Liberation Sans", sans-serif' font-size="17.60" font-weight="bold" fill="#ff0000" stroke="#f00" stroke-width="0.35">j</text>
<text x="238.10" y="222.43" font-family='"Liberation Sans", sans-serif' font-size="17.60" font-weight="bold" fill="#ff0000" stroke="#f00" stroke-width="0.35">f</text>
<rect x="111.85" y="302.60" width="6.3" height="8.4" rx="1.97" transform="rotate(0 115.0 306.8)" fill="#000"/>
<rect x="113.68" y="305.04" width="2.65" height="3.53" rx="0.88" fill="none" stroke="#fff" stroke-width="0.45" opacity="0.8"/>
<ellipse cx="114.9" cy="318.6" rx="1.8" ry="1.3" transform="rotate(0 114.9 318.6)" fill="#000"/>
<rect x="112.50" y="325.00" width="5.6" height="5.6" rx="1.75" transform="rotate(0 115.3 327.8)" fill="#000"/>
<rect x="114.12" y="326.62" width="2.35" height="2.35" rx="0.78" fill="none" stroke="#fff" stroke-width="0.45" opacity="0.8"/>
<line x1="118.0" y1="408.2" x2="125.0" y2="401.4" stroke="#444" stroke-width="0.8"/>
<ellipse cx="129.1" cy="397.1" rx="6.9" ry="2.0" transform="rotate(-42.6 129.1 397.1)" fill="#aaa" stroke="#333" stroke-width="0.7"/>
<rect x="112.15" y="407.85" width="6.7" height="6.3" rx="1.97" transform="rotate(0 115.5 411.0)" fill="#000"/>
<rect x="114.09" y="409.68" width="2.81" height="2.65" rx="0.88" fill="none" stroke="#fff" stroke-width="0.45" opacity="0.8"/>
<rect x="196.10" y="303.90" width="6.2" height="6.2" rx="1.94" transform="rotate(0 199.2 307.0)" fill="#000"/>
<rect x="197.90" y="305.70" width="2.60" height="2.60" rx="0.87" fill="none" stroke="#fff" stroke-width="0.45" opacity="0.8"/>
<rect x="216.60" y="304.00" width="6.0" height="6.4" rx="1.88" transform="rotate(0 219.6 307.2)" fill="#000"/>
<rect x="218.34" y="305.86" width="2.52" height="2.69" rx="0.84" fill="none" stroke="#fff" stroke-width="0.45" opacity="0.8"/>
<rect x="195.95" y="315.10" width="6.5" height="6.0" rx="1.88" transform="rotate(0 199.2 318.1)" fill="#000"/>
<rect x="197.83" y="316.84" width="2.73" height="2.52" rx="0.84" fill="none" stroke="#fff" stroke-width="0.45" opacity="0.8"/>
<rect x="206.00" y="314.55" width="6.0" height="6.5" rx="1.88" transform="rotate(0 209.0 317.8)" fill="#000"/>
<rect x="207.74" y="316.44" width="2.52" height="2.73" rx="0.84" fill="none" stroke="#fff" stroke-width="0.45" opacity="0.8"/>
<rect x="195.95" y="324.30" width="6.5" height="6.6" rx="2.03" transform="rotate(0 199.2 327.6)" fill="#000"/>
<rect x="197.83" y="326.21" width="2.73" height="2.77" rx="0.91" fill="none" stroke="#fff" stroke-width="0.45" opacity="0.8"/>
<rect x="206.70" y="323.60" width="5.0" height="8.0" rx="1.56" transform="rotate(0 209.2 327.6)" fill="#000"/>
<rect x="208.15" y="325.92" width="2.10" height="3.36" rx="0.70" fill="none" stroke="#fff" stroke-width="0.45" opacity="0.8"/>
<rect x="216.70" y="324.00" width="7.2" height="6.8" rx="2.12" transform="rotate(0 220.3 327.4)" fill="#000"/>
<rect x="218.79" y="325.97" width="3.02" height="2.86" rx="0.95" fill="none" stroke="#fff" stroke-width="0.45" opacity="0.8"/>
<rect x="221.60" y="283.80" width="7.8" height="6.4" rx="2.00" transform="rotate(0 225.5 287.0)" fill="#000"/>
<rect x="223.86" y="285.66" width="3.28" height="2.69" rx="0.90" fill="none" stroke="#fff" stroke-width="0.45" opacity="0.8"/>
<rect x="236.40" y="284.00" width="6.8" height="6.4" rx="2.00" transform="rotate(0 239.8 287.2)" fill="#000"/>
<rect x="238.37" y="285.86" width="2.86" height="2.69" rx="0.90" fill="none" stroke="#fff" stroke-width="0.45" opacity="0.8"/>
<rect x="220.70" y="299.00" width="6.6" height="6.2" rx="1.94" transform="rotate(0 224.0 302.1)" fill="#000"/>
<rect x="222.61" y="300.80" width="2.77" height="2.60" rx="0.87" fill="none" stroke="#fff" stroke-width="0.45" opacity="0.8"/>
<rect x="236.50" y="299.40" width="6.6" height="6.4" rx="2.00" transform="rotate(0 239.8 302.6)" fill="#000"/>
<rect x="238.41" y="301.26" width="2.77" height="2.69" rx="0.90" fill="none" stroke="#fff" stroke-width="0.45" opacity="0.8"/>
<rect x="216.60" y="407.70" width="7.4" height="6.6" rx="2.06" transform="rotate(0 220.3 411.0)" fill="#000"/>
<rect x="218.75" y="409.61" width="3.11" height="2.77" rx="0.92" fill="none" stroke="#fff" stroke-width="0.45" opacity="0.8"/>
<rect x="196.80" y="408.70" width="4.8" height="4.6" rx="1.44" transform="rotate(0 199.2 411.0)" fill="#000"/>
<rect x="198.19" y="410.03" width="2.02" height="1.93" rx="0.64" fill="none" stroke="#fff" stroke-width="0.45" opacity="0.8"/>
<circle cx="209.2" cy="307.2" r="1.5" fill="#222" stroke="#000" stroke-width="0.6"/>
<circle cx="219.8" cy="318.1" r="1.2" fill="none" stroke="#000" stroke-width="0.9"/>
<circle cx="208.7" cy="411.0" r="1.1" fill="none" stroke="#000" stroke-width="0.7"/>
<line x1="209.8" y1="316.6" x2="240.5" y2="286.8" stroke="#000" stroke-width="4.0" stroke-linecap="round"/>
<path d="M239.0,285.2 L252.0,276.0 L242.0,288.6 Z" fill="#000"/>
<line x1="251.0" y1="277.0" x2="261.8" y2="267.4" stroke="#444" stroke-width="0.9" stroke-linecap="round"/>
<ellipse cx="244.6" cy="269.2" rx="5.0" ry="1.6" transform="rotate(-42 244.6 269.2)" fill="#c8c8c8" stroke="#555" stroke-width="0.6"/>
<ellipse cx="259.3" cy="283.6" rx="5.2" ry="1.6" transform="rotate(-45 259.3 283.6)" fill="#c8c8c8" stroke="#555" stroke-width="0.6"/>
<line x1="213.1" y1="305.3" x2="212.0" y2="318.3" stroke="#4472c4" stroke-width="0.8"/>
<path d="M118.1,307.6 H223 M112.6,310.9 V406.5 M229.6,320.0 V416.0 M118.3,415.9 H221.5" stroke="#00b050" stroke-width="0.95" stroke-dasharray="3.0 2.2" fill="none"/>
<path d="M125.5,317.6 H195.8 M118.6,320.6 V401.4 M209.6,337.5 V401.4 M130.9,412.5 H195.9" stroke="#ff0000" stroke-width="0.95" stroke-dasharray="3.0 2.2" fill="none"/>
<path d="M221.7,287.4 H241.8 M221.0,302.3 H241.8 M224.5,287.4 V302.3 M241.4,287.4 V302.3" stroke="#ff0000" stroke-width="0.95" stroke-dasharray="3.0 2.2" fill="none"/>
<text x="203.77" y="296.73" font-family='"Liberation Sans", sans-serif' font-size="12.50" font-weight="bold" fill="#000">i</text>
<text x="230.05" y="328.03" font-family='"Liberation Sans", sans-serif' font-size="12.50" font-weight="bold" fill="#000">j</text>
<text x="248.34" y="295.15" font-family='"Liberation Sans", sans-serif' font-size="17.40" font-weight="bold" fill="#ff0000" stroke="#f00" stroke-width="0.35">f</text>
<text x="103.69" y="420.75" font-family='"Liberation Sans", sans-serif' font-size="12.00" font-weight="bold" fill="#000">k</text>
</svg>
</body></html>
